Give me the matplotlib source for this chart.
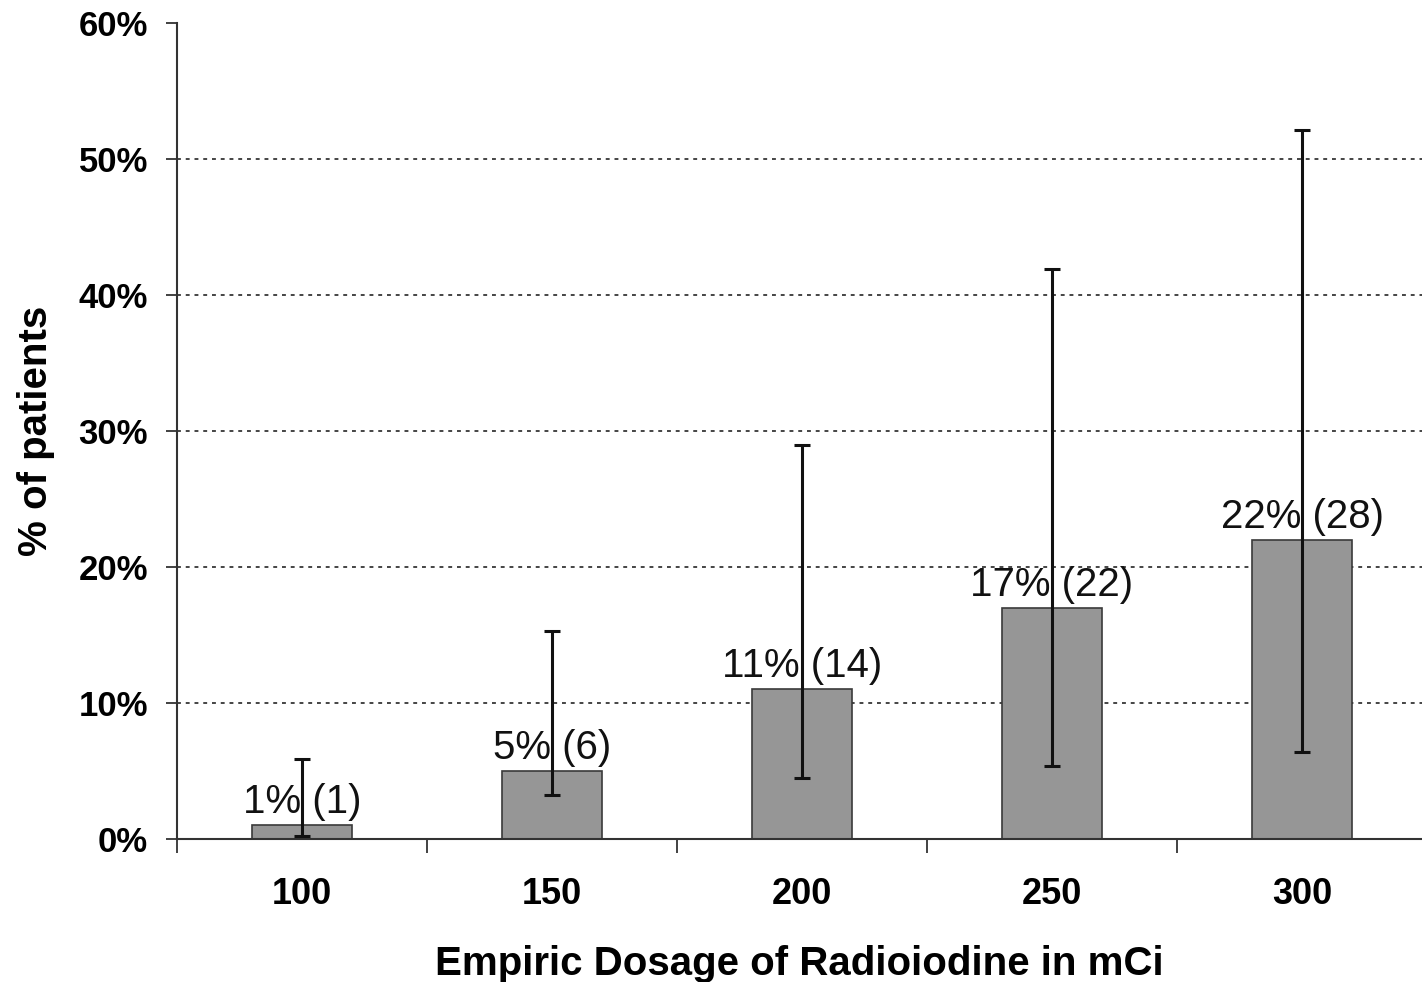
import matplotlib
matplotlib.use("Agg")
import matplotlib.pyplot as plt
import numpy as np

plt.rcParams['font.family'] = ['Liberation Sans', 'DejaVu Sans']

categories = ["100", "150", "200", "250", "300"]
values = [1, 5, 11, 17, 22]
counts = [1, 6, 14, 22, 28]
err_low = [0.2, 3.2, 4.5, 5.4, 6.4]
err_high = [5.9, 15.3, 29.0, 41.9, 52.1]
yticks = [0, 10, 20, 30, 40, 50, 60]

fig = plt.figure(figsize=(14.22, 9.82), dpi=100)
ax = fig.add_axes([0.1245, 0.1456, 0.8755, 0.831])

x = np.arange(len(categories))
ax.bar(x, values, width=0.4, color="#969696", edgecolor="#3a3a3a", linewidth=1.2, zorder=2)

yerr = np.array([[v - l for v, l in zip(values, err_low)],
                 [h - v for v, h in zip(values, err_high)]])
ax.errorbar(x, values, yerr=yerr, fmt='none', ecolor="#111111", elinewidth=2.2,
            capsize=6, capthick=2.2, zorder=4)

for xi, v, c in zip(x, values, counts):
    ax.annotate(f"{v}% ({c})", (xi, v), xytext=(0, 3), textcoords="offset points",
                ha="center", va="bottom", fontsize=29, color="#111111", zorder=3)

ax.set_xlim(-0.5, 4.48)
ax.set_ylim(0, 60)
ax.set_yticks(yticks)
ax.set_yticklabels([f"{t}%" for t in yticks], fontsize=25, fontweight="bold")
for t in yticks[1:-1]:
    ax.axhline(t, color="#444444", linestyle=(0, (2, 2.5)), linewidth=1.4, zorder=1)

ax.set_xticks(np.arange(-0.5, 4.5, 1.0))
ax.set_xticklabels([])
ax.set_xticks(x, minor=True)
ax.set_xticklabels(categories, minor=True, fontsize=26, fontweight="bold")
ax.tick_params(axis="x", which="major", direction="out", length=10, width=1.3, color="#333333")
ax.tick_params(axis="x", which="minor", length=0, pad=27)
ax.tick_params(axis="y", direction="out", length=8, width=1.3, color="#333333", pad=13)

for s in ["top", "right"]:
    ax.spines[s].set_visible(False)
for s in ["left", "bottom"]:
    ax.spines[s].set_color("#333333")
    ax.spines[s].set_linewidth(1.5)

ax.set_xlabel("Empiric Dosage of Radioiodine in mCi", fontsize=29, fontweight="bold", labelpad=24)
ax.set_ylabel("% of patients", fontsize=29, fontweight="bold", labelpad=17)

fig.savefig("out.png", dpi=100)
